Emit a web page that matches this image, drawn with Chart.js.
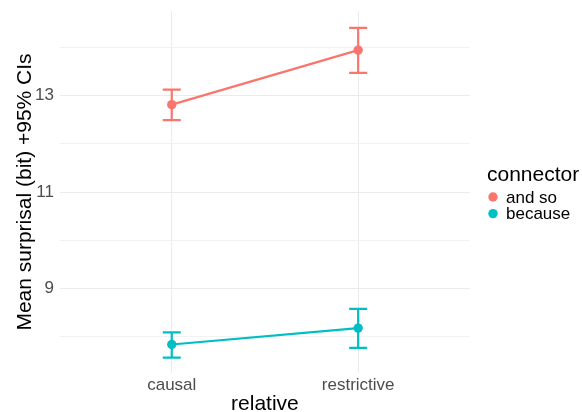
<!DOCTYPE html>
<html>
<head>
<meta charset="utf-8">
<script src="https://cdn.jsdelivr.net/npm/chart.js@4.4.1/dist/chart.umd.min.js"></script>
<style>
  html, body { margin: 0; padding: 0; background: #fff; }
  #wrap { width: 582px; height: 412px; }
</style>
</head>
<body>
<div id="wrap"><canvas id="chart" width="582" height="412"></canvas></div>
<script>
// Values
const categories = ['causal', 'restrictive'];
const seriesNames = ['and so', 'because'];
const andSoMean = [12.81, 13.94];
const andSoLow = [12.49, 13.47];
const andSoHigh = [13.12, 14.40];
const becauseMean = [7.84, 8.18];
const becauseLow = [7.57, 7.77];
const becauseHigh = [8.09, 8.58];
const yTickLabels = [9, 11, 13];
const legendTitle = 'connector';

const colors = ['#F8766D', '#00BFC4'];
const FONT = '"Liberation Sans", Arial, sans-serif';

function points(means) {
  return means.map((v, i) => ({ x: i + 1, y: v }));
}

// Error bars drawn from the chart's scales
const errorBars = {
  id: 'errorBars',
  beforeDatasetsDraw(chart) {
    const ctx = chart.ctx;
    const xs = chart.scales.x;
    const ys = chart.scales.y;
    chart.data.datasets.forEach(ds => {
      ctx.save();
      ctx.strokeStyle = ds.borderColor;
      ctx.lineWidth = 2.2;
      ds.data.forEach((p, i) => {
        const x = xs.getPixelForValue(p.x);
        const top = ys.getPixelForValue(ds.high[i]);
        const bot = ys.getPixelForValue(ds.low[i]);
        const half = 9;
        ctx.beginPath();
        ctx.moveTo(x, top); ctx.lineTo(x, bot);
        ctx.moveTo(x - half, top); ctx.lineTo(x + half, top);
        ctx.moveTo(x - half, bot); ctx.lineTo(x + half, bot);
        ctx.stroke();
      });
      ctx.restore();
    });
  }
};

// ggplot-style legend to the right of the panel
const sideLegend = {
  id: 'sideLegend',
  afterDraw(chart) {
    const ctx = chart.ctx;
    const x0 = chart.chartArea.right + 17;
    const mid = (chart.chartArea.top + chart.chartArea.bottom) / 2;
    ctx.save();
    ctx.fillStyle = '#000';
    ctx.textBaseline = 'alphabetic';
    ctx.font = '21px ' + FONT;
    ctx.fillText(legendTitle, x0, mid - 11);
    ctx.font = '17px ' + FONT;
    chart.data.datasets.forEach((ds, i) => {
      const cy = mid + 5 + i * 16.6;
      ctx.fillStyle = ds.borderColor;
      ctx.beginPath();
      ctx.arc(x0 + 6, cy, 4.7, 0, Math.PI * 2);
      ctx.fill();
      ctx.fillStyle = '#000';
      ctx.fillText(ds.label, x0 + 19, cy + 5.5);
    });
    ctx.restore();
  }
};

new Chart(document.getElementById('chart'), {
  type: 'line',
  data: {
    datasets: [
      {
        label: seriesNames[0],
        data: points(andSoMean),
        low: andSoLow,
        high: andSoHigh,
        borderColor: colors[0],
        backgroundColor: colors[0],
        borderWidth: 2.2,
        pointRadius: 4.7,
        pointBorderWidth: 0
      },
      {
        label: seriesNames[1],
        data: points(becauseMean),
        low: becauseLow,
        high: becauseHigh,
        borderColor: colors[1],
        backgroundColor: colors[1],
        borderWidth: 2.2,
        pointRadius: 4.7,
        pointBorderWidth: 0
      }
    ]
  },
  options: {
    responsive: false,
    animation: false,
    layout: { padding: { top: 11, right: 112, bottom: 0, left: 15 } },
    plugins: {
      tooltip: { enabled: false },
      legend: { display: false }
    },
    scales: {
      x: {
        type: 'linear',
        min: 0.4,
        max: 2.6,
        afterBuildTicks: axis => { axis.ticks = categories.map((c, i) => ({ value: i + 1 })); },
        ticks: {
          callback: v => categories[v - 1],
          color: '#4D4D4D',
          font: { family: FONT, size: 17, lineHeight: 1 },
          padding: 4
        },
        grid: { color: '#EBEBEB', lineWidth: 1, drawTicks: false },
        border: { display: false },
        title: {
          display: true,
          text: 'relative',
          color: '#000',
          font: { family: FONT, size: 21, lineHeight: 1 },
          padding: { top: -4, bottom: -3 }
        }
      },
      y: {
        min: 7.25,
        max: 14.75,
        afterBuildTicks: axis => {
          const t = [];
          for (let v = 8; v <= 14; v++) t.push({ value: v });
          axis.ticks = t;
        },
        afterFit: axis => { axis.paddingTop = 0; axis.paddingBottom = 0; },
        ticks: {
          callback: v => (yTickLabels.includes(v) ? String(v) : ''),
          color: '#4D4D4D',
          font: { family: FONT, size: 17 },
          padding: 6
        },
        grid: {
          color: ctx => (yTickLabels.includes(ctx.tick && ctx.tick.value) ? '#EBEBEB' : '#F2F2F2'),
          lineWidth: 1,
          drawTicks: false
        },
        border: { display: false },
        title: {
          display: true,
          text: 'Mean surprisal (bit) +95% CIs',
          color: '#000',
          font: { family: FONT, size: 21, lineHeight: 1 },
          padding: { top: 0, bottom: -7 }
        }
      }
    }
  },
  plugins: [errorBars, sideLegend]
});
</script>
</body>
</html>
